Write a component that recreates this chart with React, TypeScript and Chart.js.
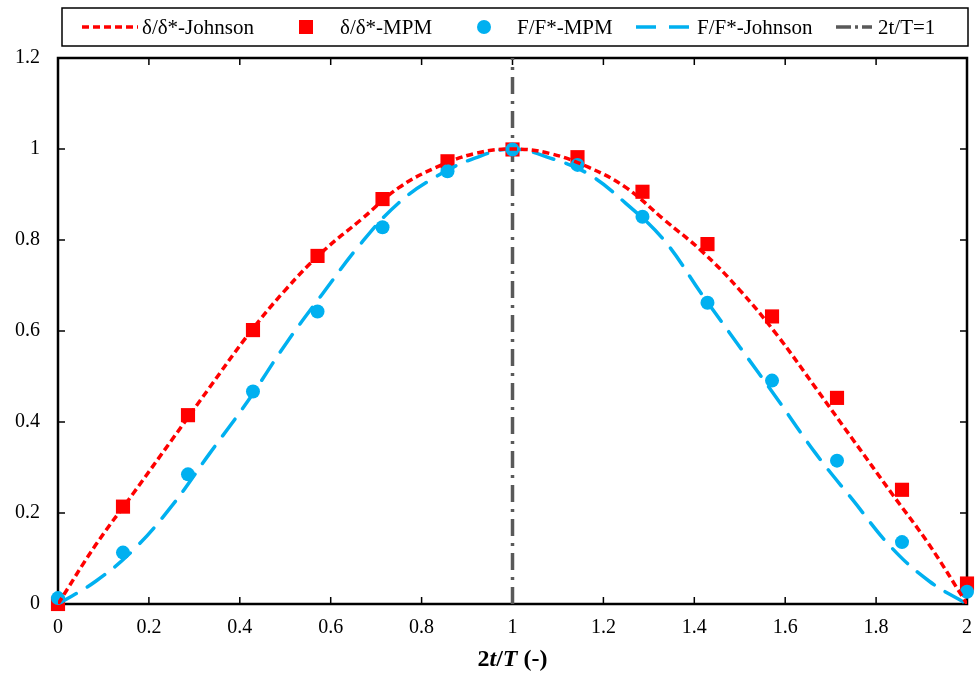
import React, { useEffect, useRef } from "react";
import { Chart, registerables } from "chart.js";

Chart.register(...registerables);

const FONT = "'Liberation Serif', 'Times New Roman', serif";
const RED = "#FF0000";
const BLUE = "#00B0F0";
const GRAY = "#595959";

// MPM sample points (2t/T)
const mpmX = [0, 0.143, 0.286, 0.429, 0.571, 0.714, 0.857, 1, 1.143, 1.286, 1.429, 1.571, 1.714, 1.857, 2];
const deltaMPM = [0, 0.214, 0.415, 0.602, 0.765, 0.89, 0.973, 0.999, 0.982, 0.906, 0.791, 0.632, 0.453, 0.251, 0.045];
const forceMPM = [0.013, 0.113, 0.285, 0.467, 0.643, 0.828, 0.951, 0.999, 0.965, 0.851, 0.662, 0.491, 0.315, 0.136, 0.027];

// Johnson curves
const johnsonX = [0, 0.083, 0.167, 0.25, 0.333, 0.417, 0.5, 0.583, 0.667, 0.75, 0.833, 0.917, 1, 1.083, 1.167, 1.25, 1.333, 1.417, 1.5, 1.583, 1.667, 1.75, 1.833, 1.917, 2];
const deltaJohnson = [0, 0.13, 0.245, 0.36, 0.475, 0.59, 0.69, 0.775, 0.845, 0.915, 0.96, 0.99, 1, 0.99, 0.96, 0.915, 0.845, 0.775, 0.69, 0.59, 0.475, 0.36, 0.245, 0.13, 0];
const forceJohnson = [0, 0.05, 0.12, 0.215, 0.33, 0.445, 0.57, 0.683, 0.793, 0.882, 0.94, 0.98, 1, 0.98, 0.945, 0.88, 0.8, 0.68, 0.565, 0.45, 0.331, 0.227, 0.125, 0.05, 0];

// Reference line 2t/T = 1
const refX = [1, 1];
const refY = [0, 1.2];

const legendLabels = ["δ/δ*-Johnson", "δ/δ*-MPM", "F/F*-MPM", "F/F*-Johnson", "2t/T=1"];
const xTitleParts: [string, boolean][] = [["2", false], ["t", true], ["/", false], ["T", true], [" (-)", false]];

const pts = (xs: number[], ys: number[]) => xs.map((x, i) => ({ x, y: ys[i] }));
const fmt = (v: any) => String(Number(Number(v).toFixed(1)));

const framePlugin = {
  id: "frame",
  beforeDatasetsDraw(chart: any) {
    const { ctx, chartArea } = chart;
    const { left, right, top, bottom } = chartArea;
    const xs = chart.scales.x;
    const ys = chart.scales.y;
    ctx.save();
    ctx.strokeStyle = "#000";
    ctx.lineWidth = 1.5;
    const line = (a: number, b: number, c: number, d: number) => {
      ctx.beginPath();
      ctx.moveTo(a, b);
      ctx.lineTo(c, d);
      ctx.stroke();
    };
    xs.ticks.forEach((t: any) => {
      const px = xs.getPixelForValue(t.value);
      line(px, bottom, px, bottom - 7);
      line(px, top, px, top + 7);
    });
    ys.ticks.forEach((t: any) => {
      const py = ys.getPixelForValue(t.value);
      line(left, py, left + 7, py);
      line(right, py, right - 7, py);
    });
    ctx.lineWidth = 2.5;
    ctx.strokeRect(left, top, right - left, bottom - top);
    ctx.restore();
  },
};

const decorPlugin = {
  id: "decor",
  afterDraw(chart: any) {
    const { ctx, chartArea } = chart;
    ctx.save();
    // Legend box
    ctx.strokeStyle = "#000";
    ctx.lineWidth = 1.5;
    ctx.strokeRect(62, 8, 906, 38);
    const cy = 27;
    ctx.font = `21px ${FONT}`;
    ctx.fillStyle = "#000";
    ctx.textBaseline = "middle";
    ctx.textAlign = "left";
    // 1: red short dash
    ctx.strokeStyle = RED;
    ctx.lineWidth = 3.5;
    ctx.setLineDash([7, 4]);
    ctx.beginPath();
    ctx.moveTo(82, cy);
    ctx.lineTo(138, cy);
    ctx.stroke();
    ctx.setLineDash([]);
    ctx.fillText(legendLabels[0], 142, cy + 1);
    // 2: red square
    ctx.fillStyle = RED;
    ctx.fillRect(299, cy - 7, 14, 14);
    ctx.fillStyle = "#000";
    ctx.fillText(legendLabels[1], 340, cy + 1);
    // 3: blue circle
    ctx.fillStyle = BLUE;
    ctx.beginPath();
    ctx.arc(484, cy, 7, 0, Math.PI * 2);
    ctx.fill();
    ctx.fillStyle = "#000";
    ctx.fillText(legendLabels[2], 517, cy + 1);
    // 4: blue long dash
    ctx.strokeStyle = BLUE;
    ctx.lineWidth = 3.5;
    ctx.setLineDash([20, 13]);
    ctx.beginPath();
    ctx.moveTo(636, cy);
    ctx.lineTo(692, cy);
    ctx.stroke();
    ctx.setLineDash([]);
    ctx.fillText(legendLabels[3], 697, cy + 1);
    // 5: gray dash-dot
    ctx.strokeStyle = GRAY;
    ctx.lineWidth = 3.5;
    ctx.setLineDash([15, 4, 3, 4]);
    ctx.beginPath();
    ctx.moveTo(836, cy);
    ctx.lineTo(872, cy);
    ctx.stroke();
    ctx.setLineDash([]);
    ctx.fillText(legendLabels[4], 878, cy + 1);

    // X axis title with mixed italic
    const size = 24;
    const parts = xTitleParts.map(([s, it]) => {
      ctx.font = `${it ? "italic " : ""}bold ${size}px ${FONT}`;
      return { s, it, w: ctx.measureText(s).width };
    });
    const total = parts.reduce((a, p) => a + p.w, 0);
    let x = (chartArea.left + chartArea.right) / 2 - total / 2;
    ctx.fillStyle = "#000";
    parts.forEach((p) => {
      ctx.font = `${p.it ? "italic " : ""}bold ${size}px ${FONT}`;
      ctx.fillText(p.s, x, 660);
      x += p.w;
    });
    ctx.restore();
  },
};

export default function App() {
  const canvasRef = useRef<HTMLCanvasElement | null>(null);

  useEffect(() => {
    document.body.style.margin = "0";
    const canvas = canvasRef.current;
    if (!canvas) return;
    const chart = new Chart(canvas, {
      type: "line",
      data: {
        datasets: [
          {
            label: legendLabels[0],
            data: pts(johnsonX, deltaJohnson),
            borderColor: RED,
            borderWidth: 3.5,
            borderDash: [7, 4],
            pointRadius: 0,
            tension: 0.4,
            fill: false,
            order: 0,
          },
          {
            label: legendLabels[1],
            data: pts(mpmX, deltaMPM),
            showLine: false,
            pointStyle: "rect",
            pointRadius: 10,
            backgroundColor: RED,
            borderColor: RED,
            borderWidth: 0,
            clip: false,
            order: 3,
          },
          {
            label: legendLabels[2],
            data: pts(mpmX, forceMPM),
            showLine: false,
            pointStyle: "circle",
            pointRadius: 7,
            backgroundColor: BLUE,
            borderColor: BLUE,
            borderWidth: 0,
            clip: false,
            order: 2,
          },
          {
            label: legendLabels[3],
            data: pts(johnsonX, forceJohnson),
            borderColor: BLUE,
            borderWidth: 3.5,
            borderDash: [21, 13],
            borderCapStyle: "round",
            pointRadius: 0,
            tension: 0.4,
            fill: false,
            order: 1,
          },
          {
            label: legendLabels[4],
            data: pts(refX, refY),
            borderColor: GRAY,
            borderWidth: 3.5,
            borderDash: [17, 7, 3, 7],
            pointRadius: 0,
            tension: 0,
            fill: false,
            order: 4,
          },
        ],
      } as any,
      options: {
        responsive: false,
        animation: false,
        devicePixelRatio: 1,
        layout: { padding: { top: 58, right: 9, left: 0, bottom: 0 } },
        plugins: {
          legend: { display: false },
          title: { display: false },
          tooltip: { enabled: false },
        },
        scales: {
          x: {
            type: "linear",
            min: 0,
            max: 2,
            ticks: { stepSize: 0.2, color: "#000", font: { family: FONT, size: 20 }, padding: 12, maxRotation: 0, callback: fmt },
            grid: { display: false, drawTicks: false },
            border: { display: false },
            afterFit: (s: any) => {
              s.height = 70;
              s.paddingLeft = 0;
              s.paddingRight = 0;
            },
          },
          y: {
            type: "linear",
            min: 0,
            max: 1.2,
            ticks: { stepSize: 0.2, color: "#000", font: { family: FONT, size: 20 }, padding: 18, callback: fmt },
            grid: { display: false, drawTicks: false },
            border: { display: false },
            afterFit: (s: any) => {
              s.width = 58;
              s.paddingTop = 0;
              s.paddingBottom = 0;
            },
          },
        },
      } as any,
      plugins: [framePlugin, decorPlugin],
    });
    return () => chart.destroy();
  }, []);

  return (
    <div style={{ width: 977, height: 674 }}>
      <canvas ref={canvasRef} width={977} height={674} style={{ display: "block" }} />
    </div>
  );
}
